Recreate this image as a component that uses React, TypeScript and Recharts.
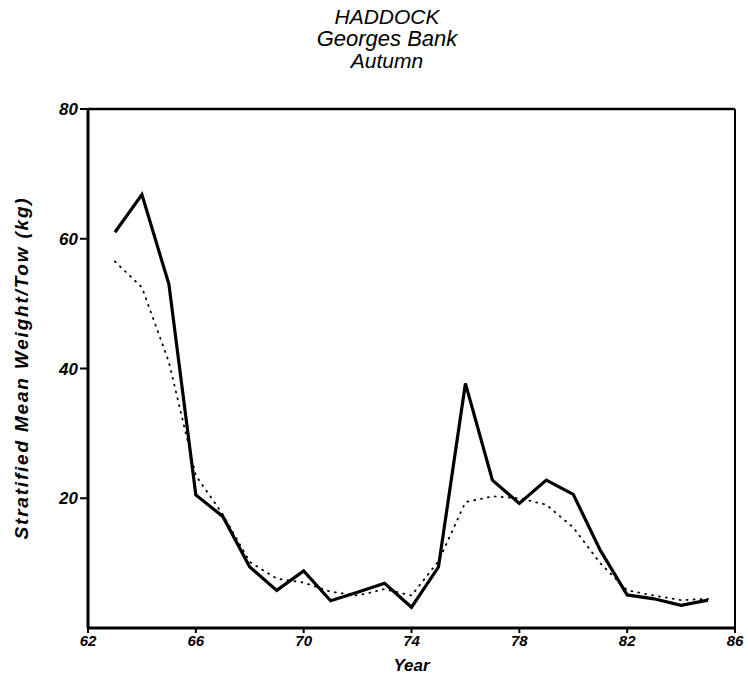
import { LineChart, Line, XAxis, YAxis, ReferenceLine } from 'recharts';

// Survey years and the two indices
const years = [63, 64, 65, 66, 67, 68, 69, 70, 71, 72, 73, 74, 75, 76, 77, 78, 79, 80, 81, 82, 83, 84, 85];
const meanWeight = [61, 66.8, 53, 20.5, 17.2, 9.4, 5.8, 8.8, 4.2, 5.5, 6.9, 3.2, 9.4, 37.7, 22.8, 19.2, 22.8, 20.6, 12, 5.1, 4.5, 3.5, 4.3];
const smoothed = [56.5, 52.5, 41, 23.5, 17.5, 10.2, 7.6, 7, 5.6, 5, 6, 5, 10.3, 19.4, 20.3, 20, 19, 15.5, 10, 5.8, 5, 4.3, 4.5];
const xTicks = [62, 66, 70, 74, 78, 82, 86];
const yTicks = [20, 40, 60, 80];

const data = years.map((y, i) => ({ year: y, weight: meanWeight[i], smooth: smoothed[i] }));

const font = '"Liberation Sans", Arial, sans-serif';
const xTickStyle = { fill: '#000', fontSize: 15, fontStyle: 'italic', fontWeight: 700, fontFamily: font };
const yTickStyle = { fill: '#000', fontSize: 17, fontStyle: 'italic', fontWeight: 700, fontFamily: font };

const App = () => {
  return (
    <div style={{ position: 'absolute', left: 0, top: 0, width: 748, height: 679, background: '#fff' }}>
      {/* Title */}
      <div
        style={{
          position: 'absolute', left: 287, top: 6, width: 200, textAlign: 'center',
          fontFamily: font, fontStyle: 'italic', fontSize: 21, lineHeight: '22px', color: '#000',
        }}
      >
        <div>HADDOCK</div>
        <div style={{ fontSize: 22 }}>Georges Bank</div>
        <div>Autumn</div>
      </div>

      {/* Y axis title */}
      <div
        style={{
          position: 'absolute', left: 22, top: 368, width: 440, marginLeft: -220, marginTop: -11,
          textAlign: 'center', transform: 'rotate(-90deg)', fontFamily: font, fontStyle: 'italic',
          fontWeight: 700, fontSize: 19, letterSpacing: 1.8, lineHeight: '22px', color: '#000',
          whiteSpace: 'nowrap',
        }}
      >
        Stratified Mean Weight/Tow (kg)
      </div>

      <LineChart width={748} height={679} data={data} margin={{ top: 109, right: 13, bottom: 0, left: 30 }}>
        <XAxis
          dataKey="year"
          type="number"
          domain={[62, 86]}
          ticks={xTicks}
          allowDataOverflow
          axisLine={{ stroke: '#000', strokeWidth: 3 }}
          tickLine={{ stroke: '#000', strokeWidth: 2 }}
          tickSize={5}
          tick={xTickStyle}
          height={51}
          label={{ value: 'Year', position: 'insideBottom', offset: 8, fill: '#000', fontSize: 17, fontStyle: 'italic', fontWeight: 700, fontFamily: font }}
        />
        <YAxis
          domain={[0, 80]}
          ticks={yTicks}
          width={58}
          axisLine={{ stroke: '#000', strokeWidth: 3 }}
          tickLine={{ stroke: '#000', strokeWidth: 2 }}
          tickSize={8}
          tick={yTickStyle}
        />
        {/* frame: top and right edges */}
        <ReferenceLine y={80} stroke="#000" strokeWidth={2.5} />
        <ReferenceLine x={86} stroke="#000" strokeWidth={2} />
        <Line
          dataKey="smooth"
          stroke="#000"
          strokeWidth={1.8}
          strokeDasharray="1 6"
          strokeLinecap="round"
          dot={false}
          isAnimationActive={false}
        />
        <Line
          dataKey="weight"
          stroke="#000"
          strokeWidth={3.2}
          strokeLinejoin="miter"
          dot={false}
          isAnimationActive={false}
        />
      </LineChart>
    </div>
  );
};

export default App;
